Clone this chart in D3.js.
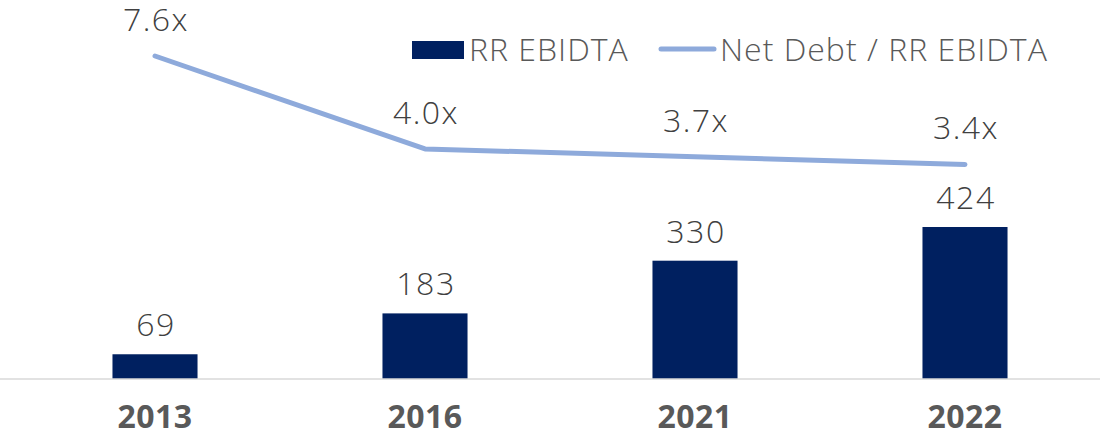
<!DOCTYPE html>
<html>
<head>
<meta charset="utf-8">
<script src="https://cdn.jsdelivr.net/npm/d3@7"></script>
<style>
  body { margin: 0; background: #fff; }
  svg text { font-family: "Open Sans", "DejaVu Sans", sans-serif; }
</style>
</head>
<body>
<svg id="chart" width="1102" height="435"></svg>
<script>
"use strict";

const years = ["2013", "2016", "2021", "2022"];
const ebitda = [69, 183, 330, 424];
const leverage = [7.6, 4.0, 3.7, 3.4];
const seriesNames = ["RR EBIDTA", "Net Debt / RR EBIDTA"];

const barColor = "#002060";
const lineColor = "#8eaadb";
const textColor = "#404040";
const fontSize = 32;

const svg = d3.select("#chart");

const x = d3.scaleBand()
  .domain(years)
  .range([20, 1100])
  .paddingInner(0.685)
  .paddingOuter(0.3425);

const yBar = d3.scaleLinear()
  .domain([0, 424])
  .range([379, 227]);

const yLine = d3.scaleLinear()
  .domain([0, 7.6])
  .range([252.3, 56]);

// Bars
svg.append("g")
  .selectAll("rect")
  .data(years)
  .enter()
  .append("rect")
  .attr("x", d => x(d))
  .attr("y", (d, i) => yBar(ebitda[i]))
  .attr("width", x.bandwidth())
  .attr("height", (d, i) => yBar(0) - yBar(ebitda[i]))
  .attr("fill", barColor);

// Bar labels
svg.append("g")
  .selectAll("text")
  .data(years)
  .enter()
  .append("text")
  .attr("x", d => x(d) + x.bandwidth() / 2 + 1)
  .attr("y", (d, i) => yBar(ebitda[i]) - 18)
  .attr("text-anchor", "middle")
  .attr("font-size", fontSize)
  .attr("font-weight", 300)
  .attr("letter-spacing", 1.5)
  .attr("fill", textColor)
  .text((d, i) => ebitda[i]);

// Axis
const xAxis = svg.append("g")
  .attr("transform", `translate(0,${yBar(0)})`)
  .call(d3.axisBottom(x).tickSize(0).tickPadding(26));
xAxis.select(".domain").attr("stroke", "#d9d9d9").attr("stroke-width", 1.5)
  .attr("d", "M0,0H1100");
xAxis.selectAll("text")
  .attr("font-size", fontSize)
  .attr("font-weight", "bold")
  .attr("fill", "#595959")
  .attr("letter-spacing", 0.5)
  .attr("font-family", "\"Open Sans\", sans-serif");

// Line
const line = d3.line()
  .x((d, i) => x(years[i]) + x.bandwidth() / 2)
  .y(d => yLine(d));

svg.append("path")
  .datum(leverage)
  .attr("d", line)
  .attr("fill", "none")
  .attr("stroke", lineColor)
  .attr("stroke-width", 5)
  .attr("stroke-linecap", "round")
  .attr("stroke-linejoin", "round");

svg.append("g")
  .selectAll("text")
  .data(leverage)
  .enter()
  .append("text")
  .attr("x", (d, i) => x(years[i]) + x.bandwidth() / 2 + 1)
  .attr("y", d => yLine(d) - 25)
  .attr("text-anchor", "middle")
  .attr("font-size", fontSize)
  .attr("font-weight", 300)
  .attr("letter-spacing", 1.5)
  .attr("fill", textColor)
  .text(d => d.toFixed(1) + "x");

// Legend
const legend = svg.append("g");
legend.append("rect")
  .attr("x", 412).attr("y", 41).attr("width", 52).attr("height", 18)
  .attr("fill", barColor);
legend.append("text")
  .attr("x", 469).attr("y", 61)
  .attr("font-size", fontSize).attr("font-weight", 300)
  .attr("letter-spacing", 1)
  .attr("fill", "#595959")
  .text(seriesNames[0]);
legend.append("line")
  .attr("x1", 661).attr("x2", 714).attr("y1", 49).attr("y2", 49)
  .attr("stroke", lineColor).attr("stroke-width", 5)
  .attr("stroke-linecap", "round");
legend.append("text")
  .attr("x", 720).attr("y", 61)
  .attr("font-size", fontSize).attr("font-weight", 300)
  .attr("letter-spacing", 1)
  .attr("fill", "#595959")
  .text(seriesNames[1]);
</script>
</body>
</html>
